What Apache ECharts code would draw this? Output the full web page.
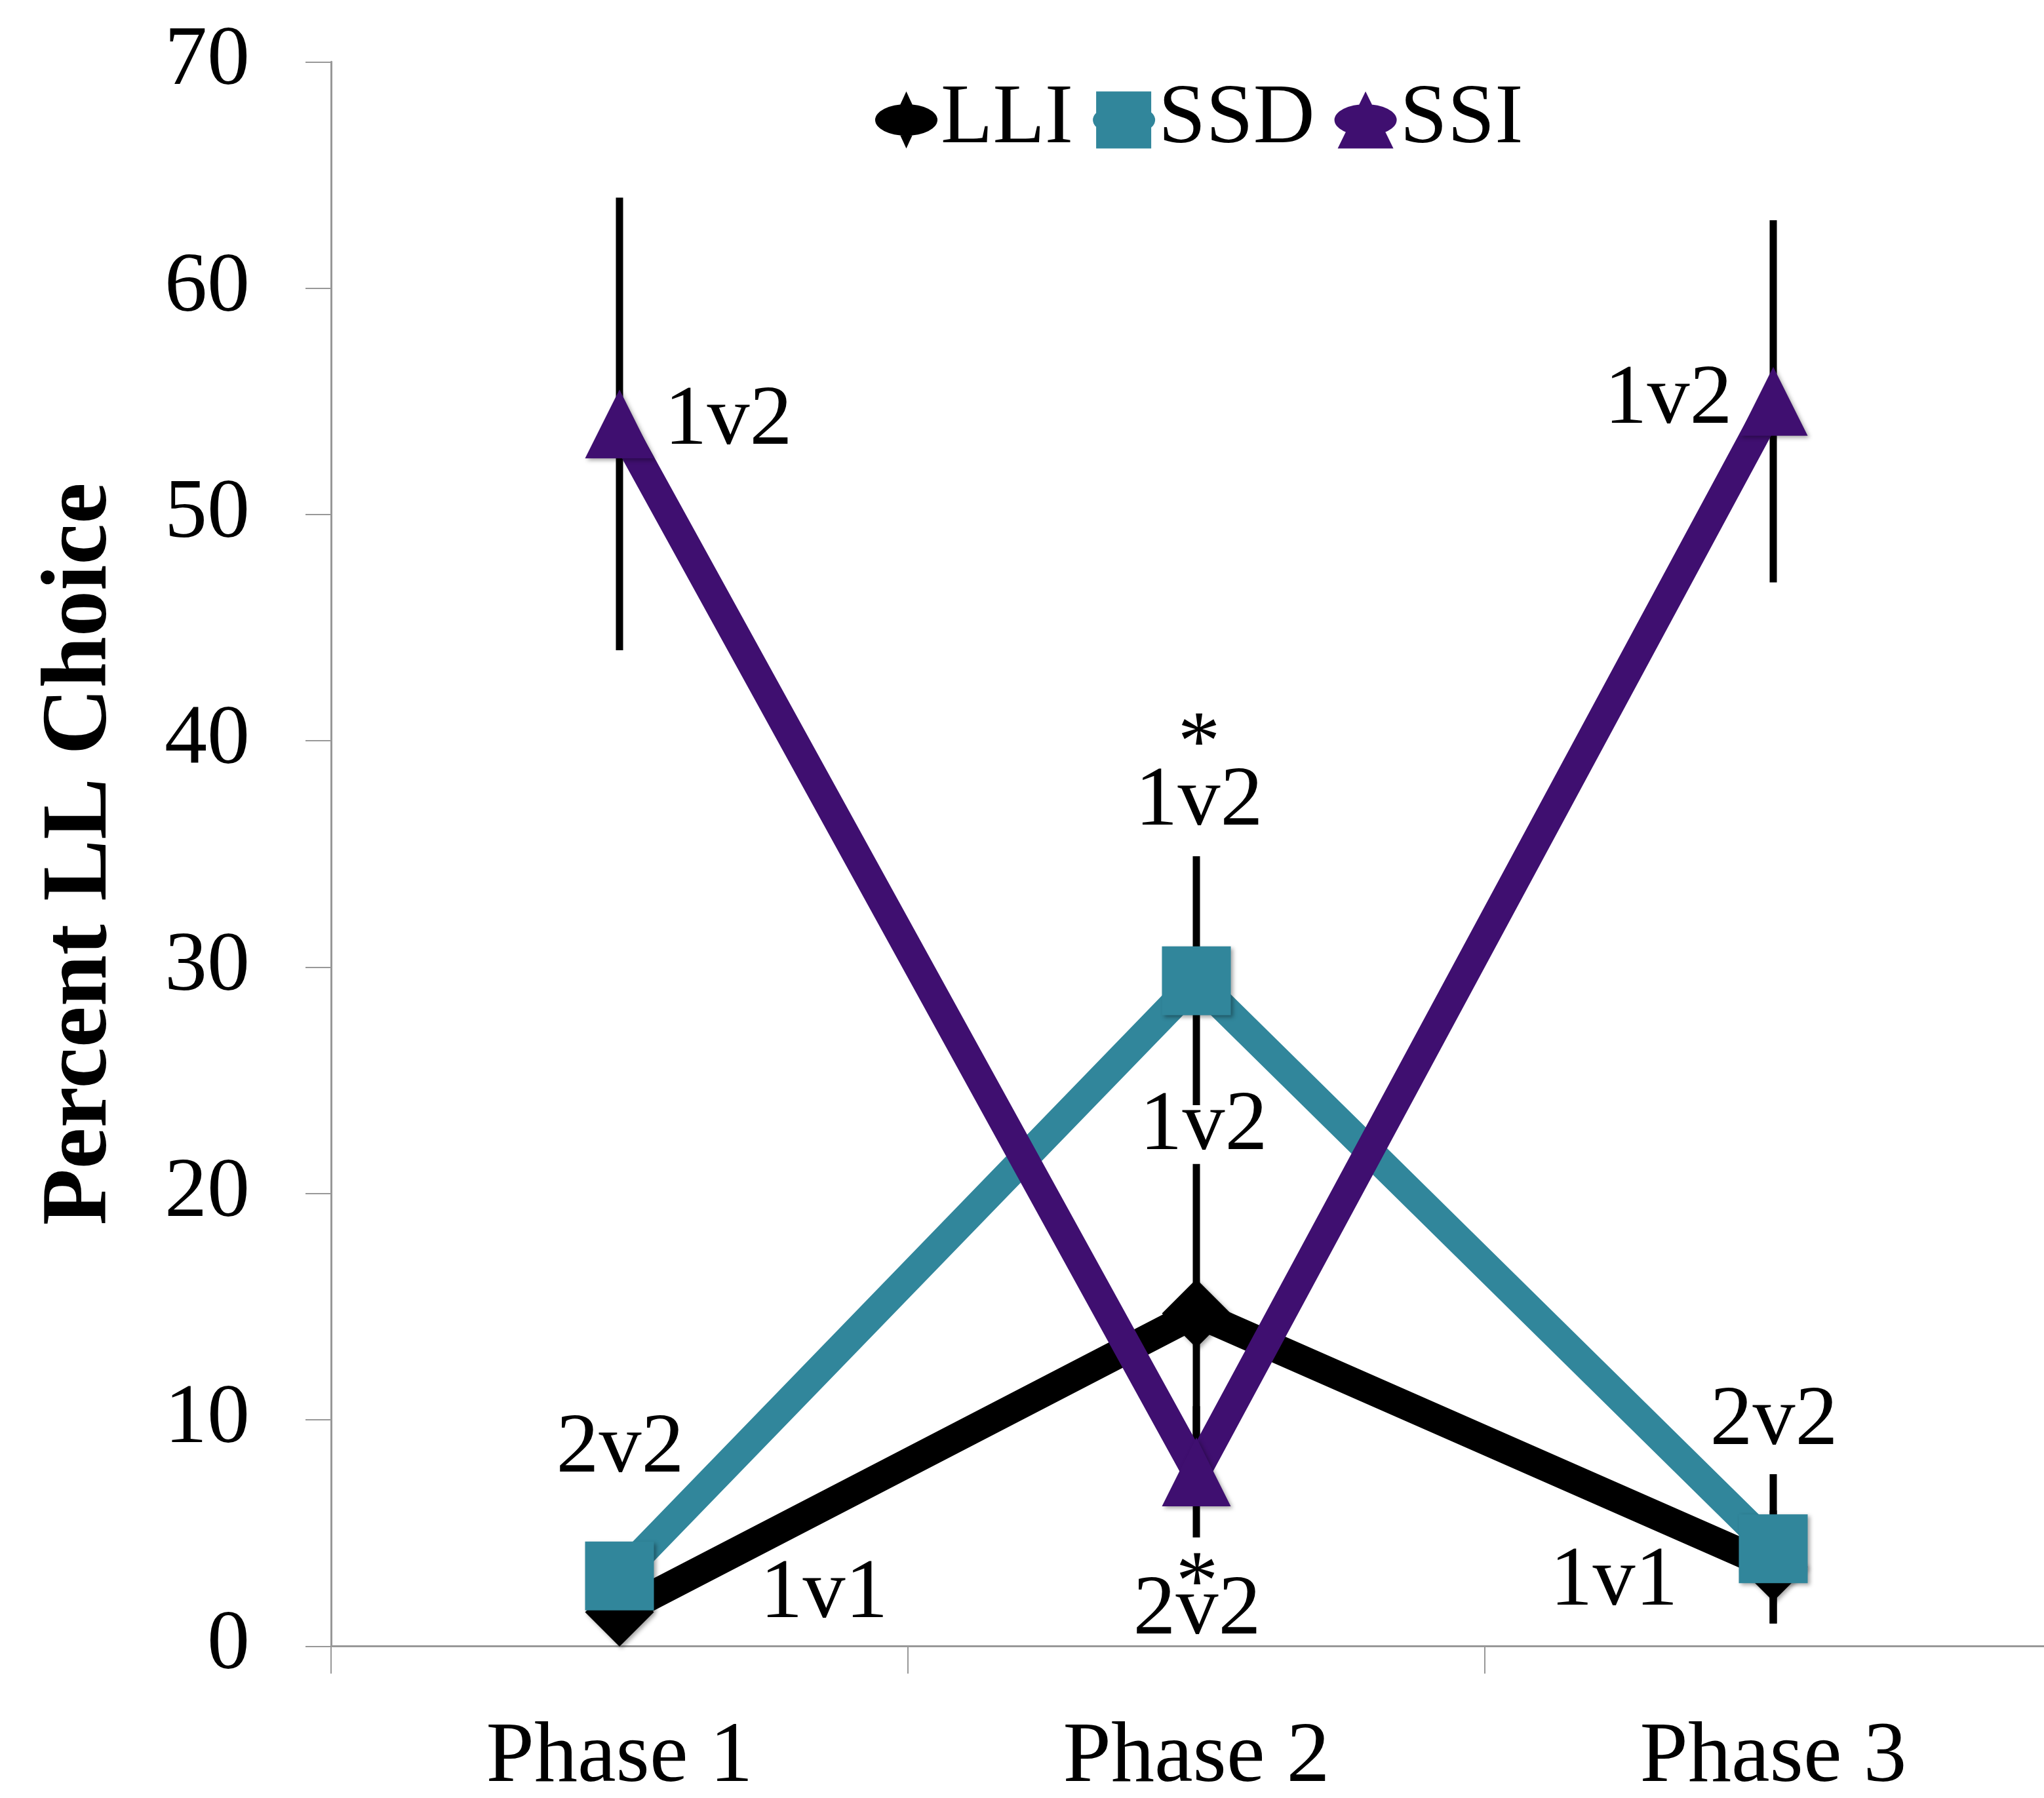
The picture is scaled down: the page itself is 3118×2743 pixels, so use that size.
<!DOCTYPE html>
<html><head><meta charset="utf-8">
<script src="https://cdn.jsdelivr.net/npm/echarts@6/dist/echarts.min.js"></script>
<style>html,body{margin:0;padding:0;background:#fff}#c{width:3118px;height:2743px}</style>
</head><body><div id="c"></div>
<script>
// ---- data ----
const categories = ['Phase 1', 'Phase 2', 'Phase 3'];
const seriesNames = ['LLI', 'SSD', 'SSI'];
const lliValues = [1.5, 14.7, 3.5];
const lliErrors = [1.0, 6.6, 2.5];
const ssdValues = [3.1, 29.4, 4.3];
const ssdErrors = [1.2, 5.5, 3.3];
const ssiValues = [54, 7.7, 55];
const ssiErrors = [10, 2.9, 8];
const lliLabels = ['1v1', '1v2', '1v1'];
const ssdLabels = ['2v2', '*\n1v2', '2v2'];
const ssiLabels = ['1v2', '*\n2v2', '1v2'];
const yMin = 0, yMax = 70, yInterval = 10;

// ---- styling / layout ----
const FONT = 'Liberation Serif';
const colors = ['#000000', '#31869B', '#3F0F70'];
const symbols = ['diamond', 'rect', 'triangle'];
const labelLayout = {
  LLI: [{offset: [312, -27]}, {offset: [11, -285]}, {offset: [-243, 23]}],
  SSD: [{offset: [1, -193]}, {offset: [4, -302], a: 60, b: 110}, {offset: [1, -194]}],
  SSI: [{offset: [166, -4]}, {offset: [1, 202], a: 20, b: 56}, {offset: [-160, -1]}]
};
const ell = 'M0,43.5 A47.5,24 0 1,1 95,43.5 A47.5,24 0 1,1 0,43.5 Z ';
const legendIcons = {
  LLI: 'path://' + ell + 'M47.5,0 L67.5,43.5 L47.5,87 L27.5,43.5 Z',
  SSD: 'path://' + ell + 'M5,0 L89,0 L89,87 L5,87 Z',
  SSI: 'path://' + ell + 'M47.5,0 L90,87 L5,87 Z'
};

function buildData(values, labels, layout) {
  return values.map((v, i) => {
    const parts = labels[i].split('\n');
    const L = layout[i];
    const label = {
      show: true, position: 'inside', offset: L.offset,
      color: '#000', fontFamily: FONT, fontSize: 130, lineHeight: 130
    };
    if (parts.length === 2) {
      label.formatter = '{a|' + parts[0] + '}\n{b|' + parts[1] + '}';
      label.rich = {
        a: {fontFamily: FONT, fontSize: 130, lineHeight: L.a, color: '#000'},
        b: {fontFamily: FONT, fontSize: 130, lineHeight: L.b, color: '#000'}
      };
    } else {
      label.formatter = parts[0];
    }
    return {value: v, label: label};
  });
}

const allValues = [lliValues, ssdValues, ssiValues];
const allErrors = [lliErrors, ssdErrors, ssiErrors];
const allLabels = [lliLabels, ssdLabels, ssiLabels];

const errorData = [];
allValues.forEach((vals, s) => {
  vals.forEach((v, i) => {
    errorData.push([i, v - allErrors[s][i], v + allErrors[s][i]]);
  });
});

const lineSeries = seriesNames.map((name, s) => ({
  name: name,
  type: 'line',
  z: 3,
  clip: false,
  symbol: symbols[s],
  symbolSize: 105,
  lineStyle: {width: 44, color: colors[s], join: 'miter', cap: 'butt'},
  itemStyle: {
    color: colors[s],
    shadowBlur: 6, shadowColor: 'rgba(0,0,0,0.35)', shadowOffsetX: 3, shadowOffsetY: 3
  },
  emphasis: {disabled: true},
  data: buildData(allValues[s], allLabels[s], labelLayout[name])
}));

const errorSeries = {
  type: 'custom',
  z: 1,
  silent: true,
  data: errorData,
  encode: {x: 0, y: [1, 2]},
  renderItem: function (params, api) {
    const x = api.value(0);
    const top = api.coord([x, api.value(2)]);
    const bot = api.coord([x, api.value(1)]);
    return {
      type: 'rect',
      shape: {x: top[0] - 5.5, y: top[1], width: 11, height: bot[1] - top[1]},
      style: {fill: '#000'}
    };
  }
};

const chart = echarts.init(document.getElementById('c'), null, {renderer: 'canvas'});
chart.setOption({
  animation: false,
  backgroundColor: '#fff',
  grid: {left: 505, top: 94.3, width: 2640, height: 2417, containLabel: false, outerBoundsMode: 'none'},
  legend: {
    left: 1335, top: 118, padding: 0,
    itemWidth: 95, itemHeight: 87, itemGap: 30,
    data: seriesNames.map(n => ({name: n, icon: legendIcons[n],
      itemStyle: {borderWidth: 0, shadowBlur: 0, shadowOffsetX: 0, shadowOffsetY: 0}})),
    textStyle: {fontFamily: FONT, fontSize: 130, color: '#000'},
    selectedMode: false
  },
  xAxis: {
    type: 'category',
    data: categories,
    boundaryGap: true,
    axisLine: {show: true, lineStyle: {color: '#989898', width: 3}},
    axisTick: {show: true, length: 42, lineStyle: {color: '#989898', width: 2}},
    axisLabel: {fontFamily: FONT, fontSize: 132, color: '#000', margin: 105},
    splitLine: {show: false}
  },
  yAxis: {
    type: 'value',
    min: yMin, max: yMax, interval: yInterval,
    name: 'Percent LL Choice',
    nameLocation: 'middle',
    nameGap: 310,
    nameTextStyle: {fontFamily: FONT, fontSize: 141, fontWeight: 'bold', color: '#000'},
    axisLine: {show: true, lineStyle: {color: '#989898', width: 3}},
    axisTick: {show: true, length: 39, lineStyle: {color: '#989898', width: 2}},
    axisLabel: {fontFamily: FONT, fontSize: 130, color: '#000', margin: 124},
    splitLine: {show: false}
  },
  series: [errorSeries].concat(lineSeries)
});
</script>
</body></html>
